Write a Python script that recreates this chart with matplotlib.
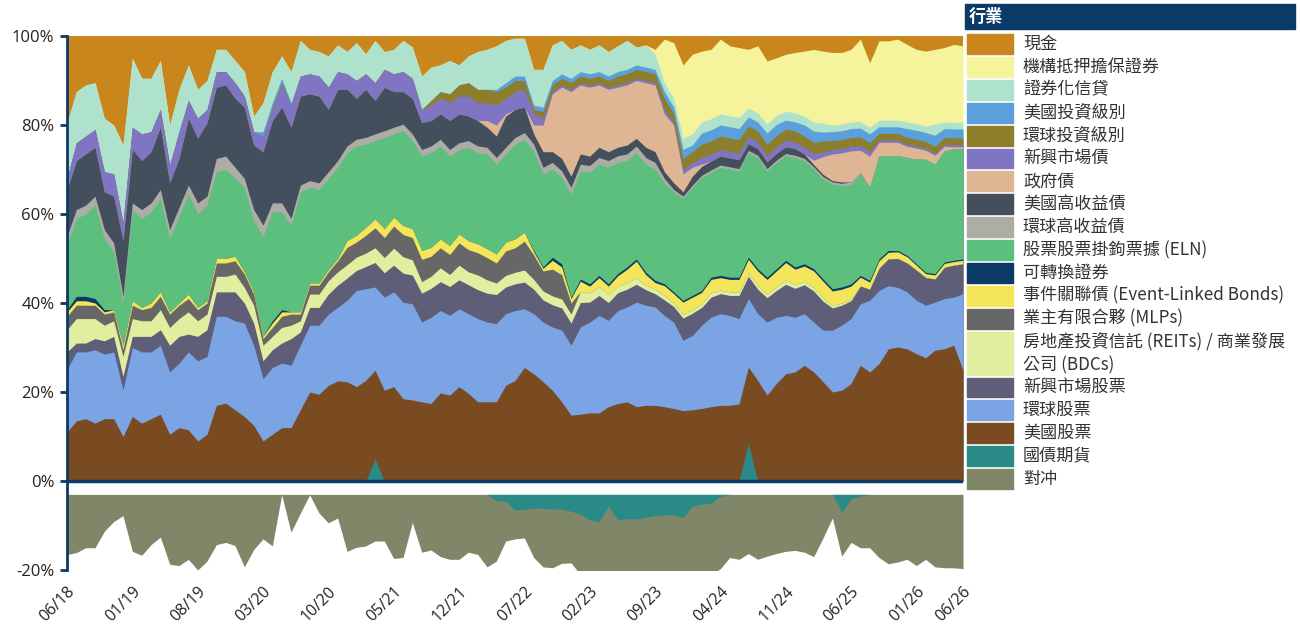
import matplotlib.pyplot as plt
from matplotlib.patches import Rectangle
import numpy as np

plt.rcParams['font.family'] = ['Noto Sans CJK TC', 'DejaVu Sans']

# monthly points 06/18 .. 06/26
tick_pos = [0, 7, 14, 21, 28, 35, 42, 49, 56, 63, 70, 77, 84, 91, 96]
tick_labels = ['06/18', '01/19', '08/19', '03/20', '10/20', '05/21', '12/21', '07/22',
               '02/23', '09/23', '04/24', '11/24', '06/25', '01/26', '06/26']

treasury_fut = [0, 0, 0, 0, 0, 0, 0, 0, 0, 0,
                0, 0, 0, 0, 0, 0, 0, 0, 0, 0,
                0, 0, 0, 0, 0, 0, 0, 0, 0, 0,
                0, 0, 0, 5, 0, 0, 0, 0, 0, 0,
                0, 0, 0, 0, 0, 0, 0, 0, 0, 0,
                0, 0, 0, 0, 0, 0, 0, 0, 0, 0,
                0, 0, 0, 0, 0, 0, 0, 0, 0, 0,
                0, 0, 0, 8.5, 0, 0, 0, 0, 0, 0,
                0, 0, 0, 0, 0, 0, 0, 0, 0, 0,
                0, 0, 0, 0, 0, 0, 0]
us_equity = [11, 13.5, 14, 13, 14, 14, 10, 14.5, 13, 14,
             15, 10.5, 12, 11.5, 9, 10.5, 17, 17.5, 16, 14.5,
             12.5, 9, 10.5, 12, 12, 16, 20, 19.5, 21.5, 22.5,
             22.3, 21.2, 22.6, 19.9, 20.4, 21.2, 18.5, 18.2, 17.8, 17.4,
             19.8, 19.3, 21.2, 19.7, 17.8, 17.8, 17.8, 21.5, 22.6, 25.5,
             24.1, 22.3, 20.4, 17.8, 14.8, 15, 15.3, 15.3, 16.7, 17.4,
             17.8, 16.7, 17, 17, 16.7, 16.3, 15.8, 16, 16.3, 16.7,
             17, 17, 17.3, 17.1, 22.6, 19.3, 21.9, 24.1, 24.5, 26,
             24.5, 22.3, 20, 20.4, 21.9, 26, 24.5, 26.4, 29.7, 30.1,
             29.7, 28.6, 27.7, 29.4, 29.7, 30.5, 24.9]
global_equity = [14, 15.5, 15, 16.5, 14.5, 15, 10.5, 15.5, 16, 15,
                 15.5, 14, 14.5, 17.5, 18, 17.5, 20, 19.5, 20, 21,
                 18, 14, 15, 14.5, 14, 14.5, 15, 15.5, 16, 16.5,
                 18.3, 21.6, 20.6, 18.7, 20.9, 21.3, 21.7, 21.6, 17.9, 19.4,
                 18.5, 17.9, 17.5, 17.9, 18.7, 17.9, 17.6, 16.1, 15.7, 13.2,
                 13.5, 13.4, 14.2, 16.1, 15.7, 19.6, 20.4, 21.9, 19.4, 20.9,
                 21.3, 23.5, 22.5, 22.1, 20.5, 19.4, 15.8, 16.7, 18.7, 20.1,
                 20.6, 20.2, 19.2, 15.4, 15, 16.4, 14.9, 13.1, 12.3, 11.6,
                 11.2, 11.6, 13.9, 14.6, 14.6, 13.8, 16.1, 16.4, 14.2, 13.4,
                 12.8, 12, 11.8, 10.8, 11.3, 10.8, 17.2]
em_equity = [4, 2, 2, 2.5, 3, 3.5, 3, 2.5, 3.5, 3.5,
             3.5, 6, 6, 4, 5.5, 6, 5.5, 5.5, 6.5, 4.5,
             5, 4, 4, 4.5, 6, 3, 4, 4, 4.5, 5,
             5, 4.5, 5, 5.5, 5.5, 6, 6.5, 6.5, 6.5, 6.5,
             6.5, 6.5, 6.5, 6.5, 6.5, 6.5, 6.5, 6, 6, 6,
             5.5, 5, 5, 5, 5, 5.5, 4.5, 4.5, 4, 4,
             4, 4, 3.5, 3, 3.5, 3.5, 5, 5, 4, 4.5,
             4.5, 4.5, 5.2, 5, 5.5, 5.5, 6, 7, 6.5, 6.5,
             7, 6.5, 5, 4.5, 4, 4, 2.5, 5, 6, 6.5,
             6.5, 6.8, 6.2, 5.2, 7, 7.2, 6.7]
reits = [5, 5.5, 5.5, 4.5, 3.5, 3.5, 4.5, 4, 3.5, 3.5,
         4.5, 4, 4, 5, 3.5, 3.5, 3.5, 3.5, 4, 3.5,
         4, 3.5, 3, 3.5, 3, 2.5, 3, 3, 3, 3,
         3, 3, 3, 3.3, 3.4, 3.8, 3.7, 3.4, 2.6, 2.7,
         3.1, 2.7, 3.3, 2.9, 3.3, 3, 2.6, 2.6, 2.6, 2.7,
         2.2, 2, 2, 2, 2, 2.5, 2, 2, 1.8, 1.5,
         1.5, 1.5, 1, 1, 1, 0.8, 0.8, 0.8, 0.8, 1,
         0.8, 0.8, 0.8, 0.8, 0.8, 0.8, 0.8, 1, 0.8, 0.8,
         0.8, 0.8, 0.5, 0.5, 0.3, 0, 0, 0, 0, 0,
         0, 0, 0, 0, 0, 0, 0]
mlps = [3, 3, 3, 3, 2.5, 2, 1.5, 3, 2.5, 3,
        3, 3, 3, 3, 2.5, 2.5, 3, 3, 3, 3,
        2.5, 1.5, 2, 2.5, 2.5, 1.5, 2, 2, 2, 2.5,
        3.9, 3.4, 4, 4.5, 4.5, 5, 5, 5, 5, 4.5,
        4.5, 4.5, 5, 5, 5, 5, 4.5, 5.5, 5.5, 6.5,
        5.5, 4.5, 6, 5.5, 2.5, 0, 0, 0, 0, 0,
        0, 0, 0, 0, 0, 0, 0, 0, 0, 0,
        0, 0, 0, 0, 0, 0, 0, 0, 0, 0,
        0, 0, 0, 0, 0, 0, 0, 0, 0, 0,
        0, 0, 0, 0, 0, 0, 0]
event_linked = [1, 1, 1, 0.5, 0.5, 0.5, 1, 1, 0.5, 1,
                1, 0.5, 0.5, 1, 0.5, 0.5, 1, 1, 1, 0.5,
                0.5, 0.5, 1, 1, 0.5, 0.5, 0.5, 0.5, 0.5, 0.5,
                1.5, 1.5, 1.8, 2, 2, 2, 2, 2, 2, 2,
                2, 2, 2, 2, 2, 2, 2, 2, 2, 2,
                0.7, 0.6, 2, 1.7, 1, 2.3, 1.6, 2, 1.9, 2.3,
                3, 3.7, 2.4, 1.5, 2.2, 2.1, 2.8, 2.8, 2.6, 3,
                2.8, 2.8, 2.8, 3, 3.3, 3.3, 3.6, 3.9, 3.5, 3.4,
                3.7, 3.7, 3.3, 3.1, 3, 2, 1.6, 1.7, 1.5, 1.5,
                1.4, 1.1, 0.9, 0.9, 0.9, 0.8, 0.8]
convertibles = [0.5, 1, 1, 1, 0.5, 0, 0, 0, 0, 0,
                0, 0, 0, 0, 0, 0, 0, 0, 0, 0,
                0, 0, 0.5, 0.5, 0, 0, 0, 0, 0, 0,
                0, 0, 0, 0, 0, 0, 0, 0, 0, 0,
                0, 0, 0, 0, 0, 0, 0, 0, 0, 0,
                0.3, 0.3, 0.7, 0.7, 0.3, 0.5, 0.5, 0.5, 0.5, 0.5,
                0.5, 0.5, 0.5, 0.5, 0.4, 0.4, 0.4, 0.4, 0.4, 0.5,
                0.5, 0.5, 0.5, 0.5, 0.5, 0.5, 0.5, 0.5, 0.5, 0.5,
                0.5, 0.5, 0.5, 0.5, 0.5, 0.4, 0.4, 0.4, 0.4, 0.3,
                0.3, 0.3, 0.3, 0.3, 0.3, 0.3, 0.3]
eln = [14.5, 17.5, 18.5, 21, 16, 13, 9.5, 20.5, 20, 20.5,
       21, 16.5, 19.5, 22.5, 21, 21.5, 19.5, 20, 17.5, 19,
       16, 22.5, 24.5, 22, 19.5, 27, 21.5, 21, 20.5, 20.5,
       19.8, 20.1, 18.7, 17.6, 20.5, 18.7, 21.3, 19.8, 21.2, 21.3,
       20.9, 20.1, 19, 21, 20.5, 21.3, 20.2, 19.8, 21.3, 20.9,
       22.4, 20.9, 19.8, 19.4, 23.2, 24.3, 25.1, 25, 26.2, 25,
       23.9, 23.9, 24.3, 25, 22.7, 22.5, 22.9, 24.3, 25.4, 23.6,
       24.3, 24.3, 23.9, 23.5, 25, 23.9, 23.9, 23.5, 24.6, 23.2,
       22.4, 22.5, 23.5, 22.8, 22.4, 22.8, 20.9, 23.2, 21.3, 21.3,
       22, 23.5, 25.4, 24.6, 25, 25, 24.7]
global_hy = [2, 2, 2, 2, 2, 2, 1.5, 1.5, 2, 2,
             2, 2, 2, 2, 2.5, 2, 3, 3, 2.5, 2,
             2.5, 2.5, 2, 2, 1.5, 1.5, 1.5, 1.5, 1.5, 1.5,
             1.5, 1.5, 1.5, 1.5, 1.5, 1.5, 1.5, 1.5, 1.5, 1.5,
             1.5, 1.5, 1.5, 1.5, 1.5, 1.5, 1.5, 1.5, 1.5, 1.5,
             1.5, 1.5, 1.5, 1.5, 1.5, 1.5, 1.5, 1.5, 1.5, 1.5,
             1.5, 1.5, 1.5, 1.5, 1, 0.5, 0.5, 0.5, 0.5, 0.5,
             0.5, 0.5, 0.5, 0.5, 0.5, 0.5, 0.5, 0.5, 0.5, 0.5,
             0.5, 0.5, 0.5, 0.5, 0.5, 0.3, 0, 0, 0, 0,
             0, 0, 0, 0, 0, 0, 0]
us_hy = [10.5, 11, 11.5, 11, 8.5, 10.5, 12.5, 12, 11, 11.5,
         14, 10.5, 11, 15, 14.5, 16.5, 16, 16, 15.5, 16,
         14.5, 16.5, 18.5, 21.5, 20.5, 20, 19.5, 19.5, 14, 16,
         12.7, 9.2, 10.8, 7.5, 9.8, 8, 7.3, 8, 6, 5.7,
         5.7, 6.5, 6.5, 5.5, 5.7, 4.5, 4.8, 7, 6.3, 5.7,
         2.3, 3.5, 2.4, 2.8, 2.5, 2.3, 2.1, 2.3, 2, 1.9,
         2, 1.7, 2.3, 2.4, 1.5, 1.5, 1, 2, 2, 2,
         2, 2, 2, 1.5, 1.5, 1.5, 1.5, 1.5, 1.5, 1,
         0.5, 0.5, 0.3, 0.3, 0, 0, 0, 0, 0, 0,
         0, 0, 0, 0, 0, 0, 0]
gov_bonds = [0, 0, 0, 0, 0, 0, 0, 0, 0, 0,
             0, 0, 0, 0, 0, 0, 0, 0, 0, 0,
             0, 0, 0, 0, 0, 0, 0, 0, 0, 0,
             0, 0, 0, 0, 0, 0, 0, 0, 0, 0,
             0, 0, 0, 0, 0, 1.5, 2.5, 0.5, 0, 0,
             2, 6, 13, 16, 19, 15.5, 15.5, 14, 14, 13.5,
             13.5, 13, 14.5, 15, 13, 13, 4, 2, 0.5, 0,
             0, 0, 0, 0, 0, 0, 0, 0, 0, 0,
             1, 4, 6, 6.5, 7, 5, 7, 3, 3, 3,
             2.5, 2.5, 2, 2, 1, 0.5, 0.5]
em_debt = [2.5, 4, 4, 4, 4.5, 5, 4, 5, 6, 4.5,
           4, 4, 6, 4, 4.5, 3, 3.5, 3, 3.5, 2.5,
           3, 3.5, 2.5, 5, 5, 4.5, 4.5, 4.5, 5, 4,
           3.5, 4, 3.5, 4, 4, 4, 4.5, 4.5, 3, 3.5,
           3.5, 4, 4, 4.5, 4, 4, 4.5, 3.5, 4, 4,
           2.5, 1.5, 0.5, 0.5, 0.5, 0.5, 0.5, 0.5, 0.5, 0.5,
           0.5, 0.5, 0.5, 0.5, 1, 0.5, 1, 1, 1.5, 1.5,
           1.5, 1.5, 1.5, 1.5, 1.5, 1.5, 1.5, 1.5, 1.5, 1.5,
           1.5, 1, 1, 1, 1, 1, 1, 0.5, 0.5, 0.5,
           0.5, 0.5, 0.5, 0.5, 0.5, 0.5, 0.5]
global_ig = [0, 0, 0, 0, 0, 0, 0, 0, 0, 0,
             0, 0, 0, 0, 0, 0, 0, 0, 0, 0,
             0, 0, 0.5, 0.5, 0, 0, 0, 0, 0, 0,
             0, 0, 0, 0, 0, 0, 0, 0, 0, 1,
             1.5, 2, 2.5, 3, 3, 3, 3, 2.5, 2.5, 2,
             1, 1.5, 1.5, 1.5, 1.5, 1.5, 1.5, 1.5, 1.5, 2,
             2, 2, 2, 2, 2.5, 2, 2.5, 2.5, 3, 3,
             3, 3, 3, 2.5, 2.5, 2.5, 2.5, 2.5, 2.5, 2.5,
             2.5, 2.5, 2, 2, 2, 2, 2, 1.5, 1.5, 1.5,
             1.5, 1.5, 1.5, 1.5, 1.5, 1.5, 1.5]
us_ig = [0, 0, 0, 0, 0, 0, 0, 0, 0, 0,
         0, 0, 0, 0, 0, 0, 0, 0, 0, 0,
         0, 1, 1, 1, 0.5, 0, 0, 0, 0, 0,
         0, 0, 0, 0, 0, 0, 0, 0, 0, 0,
         0, 0, 0, 0, 0, 0, 0.5, 1, 1, 1,
         1, 1, 1, 1, 1, 1, 1, 1, 1, 1,
         1, 1, 1, 1, 1.5, 1.5, 2, 1.5, 2.5, 2.5,
         2.5, 2.5, 2.5, 2, 2, 2.5, 2.5, 2, 2, 2.5,
         2.5, 2, 2, 2, 2, 2, 2, 1.5, 1.5, 1.5,
         2, 2, 2, 2.5, 2, 2, 2]
securitized = [12.5, 11.5, 11.5, 10.5, 12, 11, 17.5, 15.5, 12.5, 12,
               11, 9, 9.5, 8, 6.5, 6.5, 5, 5, 5, 5.5,
               3.5, 6.5, 7, 5, 7, 8, 5.5, 5.5, 7, 6,
               5, 8.5, 4.5, 9.5, 4, 5.5, 7, 7, 7.5, 7.5,
               6, 7.5, 4.5, 6, 8.5, 9, 9.8, 9.5, 8.5, 8.5,
               8, 8.5, 8, 7.5, 6.5, 6, 5.5, 6, 5.5, 5.8,
               6.5, 4, 5, 3.5, 2, 2, 2.5, 2.5, 2.5, 2.5,
               2.5, 2.5, 2.5, 2, 2, 2, 2, 2, 2, 2,
               2, 2, 1.5, 1.5, 1.5, 1.5, 1.5, 1.5, 1.5, 1.5,
               1.5, 1.5, 1.5, 2.5, 1.5, 1.5, 1.5]
agency_mbs = [0, 0, 0, 0, 0, 0, 0, 0, 0, 0,
              0, 0, 0, 0, 0, 0, 0, 0, 0, 0,
              0, 0, 0, 0, 0, 0, 0, 0, 0, 0,
              0, 0, 0, 0, 0, 0, 0, 0, 0, 0,
              0, 0, 0, 0, 0, 0, 0, 0, 0, 0,
              0, 0, 0, 0, 0, 0, 0, 0, 0, 0,
              0, 0, 0, 1, 9.8, 12.5, 16.5, 17.9, 15.9, 15.6,
              16.8, 15.7, 15.7, 13.2, 15.1, 14.2, 13, 12.8, 13.6, 14.6,
              16.4, 16.2, 16.3, 16.1, 16.3, 18.5, 14.5, 17.8, 17.8, 18.2,
              17.4, 16.7, 16.8, 16.8, 16.7, 17.5, 17.2]
cash = [19.5, 12.5, 11, 10.5, 18.5, 20, 24.5, 5, 9.5, 9.5,
        5.5, 20, 12, 6.5, 12, 10, 3, 3, 5.5, 8,
        18, 15, 8, 4.5, 8, 1, 3, 3.5, 4.5, 2,
        3.5, 1.5, 4, 1, 3.5, 3, 1, 2.5, 9, 7,
        6.5, 5.5, 6.5, 4.5, 3.5, 3, 2.2, 1, 0.5, 0.5,
        7.5, 7.5, 2, 1, 3, 2, 3, 2, 3.5, 2.2,
        1, 2.5, 2, 3, 0.7, 1.5, 6.5, 4.1, 3.4, 3,
        0.7, 2.2, 2.6, 3, 2.2, 5.6, 4.9, 4.1, 3.7, 3.4,
        3, 3.4, 3.7, 3.7, 3, 0.7, 6, 1.1, 1.1, 0.7,
        1.9, 3, 3.4, 3, 2.6, 1.9, 2.2]

# short side: treasury futures shorts and the hedge (lower edge as read on the axis)
treasury_fut_short = [0, 0, 0, 0, 0, 0, 0, 0, 0, 0,
                      0, 0, 0, 0, 0, 0, 0, 0, 0, 0,
                      0, 0, 0, 0, 0, 0, 0, 0, 0, 0,
                      0, 0, 0, 0, 0, 0, 0, 0, 0, 0,
                      0, 0, 0, 0, 0, 0, 1.4, 1.6, 3.5, 3.4,
                      3.1, 3.1, 3.3, 3.3, 3.8, 4.4, 5.7, 6.2, 2.7, 5.7,
                      5.5, 5.5, 5.2, 4.8, 4.6, 4.6, 5.2, 2.6, 2.2, 2,
                      0.5, 0, 0, 0, 0, 0, 0, 0, 0, 0,
                      0, 0, 0, 4, 1, 0.4, 0, 0, 0, 0,
                      0, 0, 0, 0, 0, 0, 0]
hedge_low = [-16.5, -16.1, -15, -15, -11.3, -9.1, -7.8, -15.8, -16.7, -14.3,
             -12.6, -18.7, -19, -17.6, -20, -18, -14.3, -13.8, -14.5, -19.3,
             -15.4, -13, -14.6, -3.1, -11.5, -7.2, -3.1, -7.2, -9.4, -8.3,
             -15.8, -14.9, -14.6, -13.5, -13.5, -17.4, -17.2, -9.3, -16, -15.5,
             -17, -17.6, -17.6, -16, -16.5, -19.3, -18, -13.5, -13, -12.8,
             -17.2, -19.3, -19.5, -18.5, -18.4, -21, -21, -21, -21, -21,
             -21, -21, -21, -21, -21, -21, -21, -21, -21, -21,
             -19.7, -17.2, -17.6, -16.3, -17.6, -16.9, -16.3, -15.8, -15.6, -16,
             -17, -12.8, -8.3, -16.9, -13.8, -15, -15, -17.2, -18.6, -18.2,
             -17.6, -19, -17.6, -19.3, -19.5, -19.5, -19.7]

navy = '#0B3A66'
c_cash, c_mbs, c_sec, c_usig = '#C8861C', '#F5F39B', '#AEE2CC', '#5B9FDB'
c_gig, c_emd, c_gov, c_ushy = '#8C7E2A', '#8075C2', '#DEB694', '#434F5C'
c_ghy, c_eln, c_conv, c_evt = '#ADADA6', '#5CBF7E', '#0B3A66', '#F3E65A'
c_mlp, c_reit, c_emeq, c_geq = '#676767', '#E1EEA0', '#5F5E78', '#7BA4E4'
c_useq, c_tfut, c_hedge = '#7A4A20', '#2A8A88', '#808769'

long_layers = [treasury_fut, us_equity, global_equity, em_equity, reits, mlps,
               event_linked, convertibles, eln, global_hy, us_hy, gov_bonds,
               em_debt, global_ig, us_ig, securitized, agency_mbs, cash]
long_colors = [c_tfut, c_useq, c_geq, c_emeq, c_reit, c_mlp, c_evt, c_conv, c_eln,
               c_ghy, c_ushy, c_gov, c_emd, c_gig, c_usig, c_sec, c_mbs, c_cash]

x = np.arange(len(cash))
tops = np.cumsum(np.array(long_layers, dtype=float), axis=0)
gap = 3  # white band between the long and short panels

fig = plt.figure(figsize=(13, 6.38), dpi=100)
ax = fig.add_axes([67 / 1300, 68 / 638, 896 / 1300, 534 / 638])

# paint from the top layer down so neighbouring areas leave no seams
for top, col in reversed(list(zip(tops, long_colors))):
    ax.fill_between(x, 0, top, color=col, lw=0)

short_top = -gap - np.array(treasury_fut_short)
ax.fill_between(x, -gap, hedge_low, color=c_hedge, lw=0)
ax.fill_between(x, -gap, short_top, color=c_tfut, lw=0)

ax.axhline(0, color=navy, lw=2.5, zorder=5)
ax.set_xlim(0, 96)
ax.set_ylim(-20, 100)
for s in ['top', 'right', 'bottom']:
    ax.spines[s].set_visible(False)
ax.spines['left'].set_color(navy)
ax.spines['left'].set_linewidth(2)

ax.set_yticks([-20, 0, 20, 40, 60, 80, 100])
ax.set_yticklabels(['-20%', '0%', '20%', '40%', '60%', '80%', '100%'],
                   fontsize=12, family='Open Sans', color='#222222')
ax.tick_params(axis='y', length=5, width=2, color=navy, pad=4)
ax.set_xticks(tick_pos)
ax.set_xticklabels(tick_labels, rotation=45, ha='right', rotation_mode='anchor',
                   fontsize=11.5, family='Open Sans', color='#222222')
ax.tick_params(axis='x', length=0, pad=10)

# legend panel drawn in pixel coordinates
lax = fig.add_axes([0, 0, 1, 1])
lax.set_xlim(0, 1300)
lax.set_ylim(638, 0)
lax.axis('off')
lax.add_patch(Rectangle((965, 4), 330, 25, color=navy))
lax.text(969, 17, '行業', color='white', fontsize=12.3, fontweight='bold', va='center')

legend_names = ['現金', '機構抵押擔保證券', '證券化信貸', '美國投資級別', '環球投資級別',
                '新興市場債', '政府債', '美國高收益債', '環球高收益債',
                '股票股票掛鉤票據 (ELN)', '可轉換證券', '事件關聯債 (Event-Linked Bonds)',
                '業主有限合夥 (MLPs)', '房地產投資信託 (REITs) / 商業發展\n公司 (BDCs)',
                '新興市場股票', '環球股票', '美國股票', '國債期貨', '對冲']
legend_colors = [c_cash, c_mbs, c_sec, c_usig, c_gig, c_emd, c_gov, c_ushy, c_ghy,
                 c_eln, c_conv, c_evt, c_mlp, c_reit, c_emeq, c_geq, c_useq, c_tfut,
                 c_hedge]
step = 22.9
slot = 0
for name, col in zip(legend_names, legend_colors):
    n = 2 if '\n' in name else 1
    y0 = 34 + slot * step
    h = n * step - 3
    lax.add_patch(Rectangle((967, y0), 46, h, color=col))
    lax.text(1023, y0 + h / 2, name, fontsize=12.3, color='#333333', va='center',
             linespacing=1.45)
    slot += n

fig.savefig('out.png', dpi=100)
plt.close(fig)
